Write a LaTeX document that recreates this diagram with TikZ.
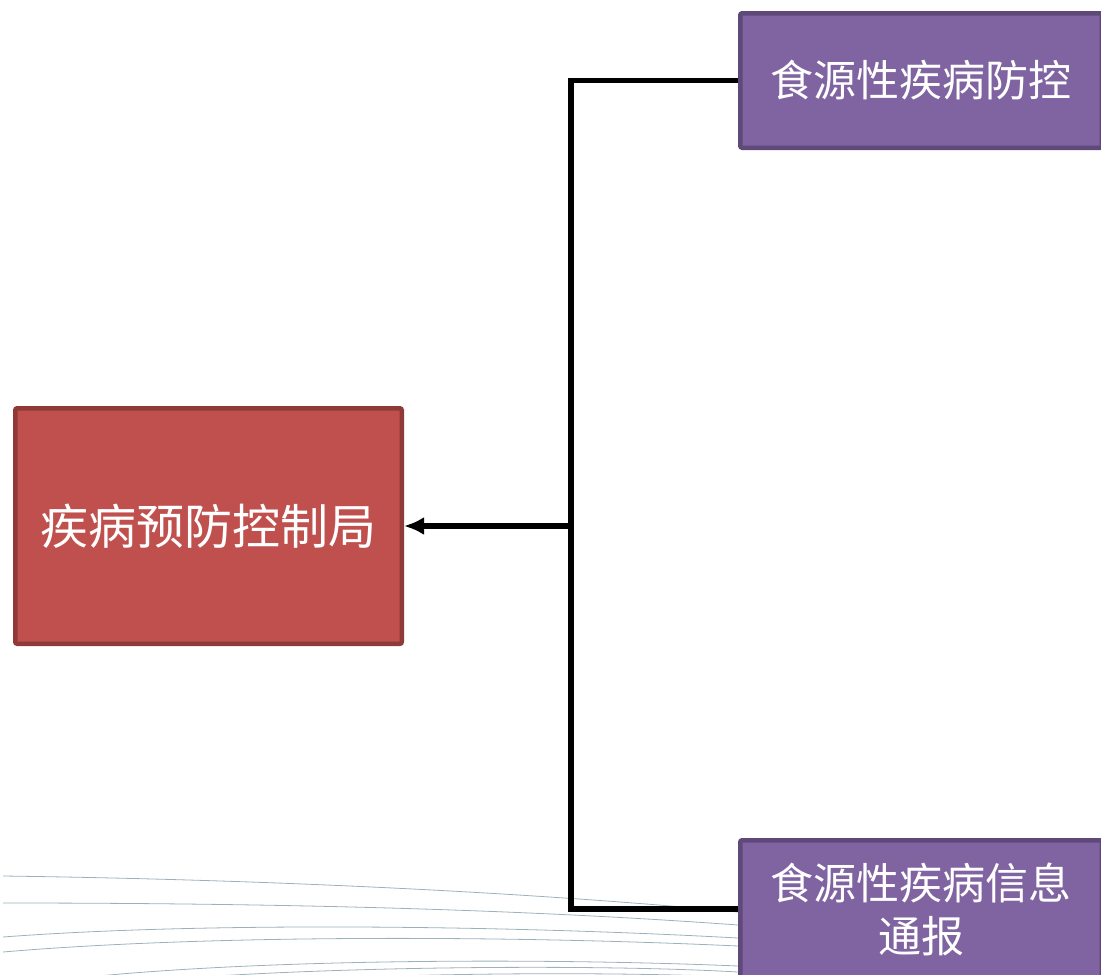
\documentclass[tikz,border=0pt]{standalone}
\usepackage{fontspec}
\newfontfamily\cjk{Noto Sans CJK SC}
\usetikzlibrary{arrows.meta,shadows}
\definecolor{redfill}{HTML}{C0504D}
\definecolor{redline}{HTML}{8E3A38}
\definecolor{purfill}{HTML}{8064A2}
\definecolor{purline}{HTML}{5F497A}
\definecolor{bgline}{HTML}{9DB1BA}
\tikzset{
  box/.style={rectangle, line width=4.5pt, rounded corners=2pt, inner sep=0pt,
    text=white, align=center, font=\cjk,
    drop shadow={shadow xshift=2pt, shadow yshift=-2pt, opacity=0.25}},
  redbox/.style={box, draw=redline, fill=redfill},
  purbox/.style={box, draw=purline, fill=purfill},
  conn/.style={line width=5.5pt, black},
  bgcurve/.style={bgline, line width=0.8pt}
}
\begin{document}
\begin{tikzpicture}[x=1pt,y=-1pt]
\useasboundingbox (0,0) rectangle (1101,975);
\begin{scope}
\clip (0,0) rectangle (1101,975);
% background curves
\draw[bgcurve] (3,876) .. controls (300,880) and (560,895) .. (738,912);
\draw[bgcurve] (3,903) .. controls (330,903) and (560,912) .. (738,925);
\draw[bgcurve] (3,937) .. controls (200,922) and (500,925) .. (738,938);
\draw[bgcurve] (3,952) .. controls (200,935) and (500,935) .. (738,946);
\draw[bgcurve] (60,980) .. controls (250,958) and (550,958) .. (738,966);
\draw[bgcurve] (160,980) .. controls (330,966) and (600,964) .. (738,972);
\draw[bgcurve] (260,982) .. controls (420,972) and (620,972) .. (738,977);
% nodes
\node[redbox, minimum width=386.5pt, minimum height=235.5pt, font=\cjk\fontsize{48}{56}\selectfont]
  (cdc) at (208.5,526) {疾病预防控制局};
\node[purbox, minimum width=361.5pt, minimum height=134.5pt, font=\cjk\fontsize{43}{53}\selectfont]
  (t1) at (921,80.5) {食源性疾病防控};
\node[purbox, minimum width=361.5pt, minimum height=137.5pt, font=\cjk\fontsize{43}{53}\selectfont]
  (t2) at (921,909) {食源性疾病信息\\通报};
% connectors
\coordinate (j) at (571,526);
\draw[conn] (t1.west) -| (j) |- (t2.west);
\draw[conn,-{Latex[length=20pt,width=18pt]}] (j) -- (cdc.east);
\end{scope}
\end{tikzpicture}
\end{document}
